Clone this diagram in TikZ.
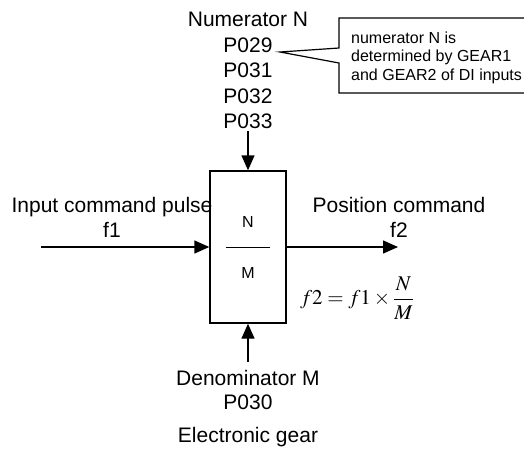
\documentclass[tikz,border=0pt]{standalone}
\usepackage{mathptmx}
\usepackage{fontspec}
\setmainfont{Liberation Sans}
\usetikzlibrary{arrows.meta}

\begin{document}
\begin{tikzpicture}[
  x=1pt, y=-1pt,
  every node/.style={font=\fontsize{21}{25}\selectfont},
  lbl/.style={align=center, inner sep=2pt},
  gearbox/.style={draw, line width=1.4pt, minimum width=76pt,
    minimum height=152pt, inner sep=0pt},
  ratio/.style={font=\fontsize{16}{18}\selectfont, anchor=base},
  arr/.style={-{Triangle[length=15pt, width=13pt]}, line width=1.4pt},
  note/.style={line width=1.2pt}
]
  \useasboundingbox (0,0) rectangle (524,448);

  % Gear block with N/M ratio
  \node[gearbox] (gear) at (248,247) {};
  \node[ratio] (ratN) at (248,227.8) {N};
  \node[ratio] (ratM) at (248,278.8) {M};
  \draw[line width=1pt] ([xshift=-22pt]gear.center) -- ([xshift=22pt]gear.center);

  % Input and output pulses
  \coordinate (in) at (41,247);
  \coordinate (out) at (398,247);
  \node[lbl] (inlbl) at (112,217.4) {Input command pulse\\f1};
  \node[lbl] (outlbl) at (399,217.4) {Position command\\f2};
  \draw[arr] (in) -- (gear.west);
  \draw[arr] (gear.east) -- (out);

  % Formula
  \node (formula) at (357,298) {$\displaystyle f2 = f1\times\frac{N}{M}$};

  % Numerator (top)
  \node[lbl, anchor=south, font=\fontsize{21}{25.5}\selectfont] (num) at (248,131)
    {Numerator N\\P029\\P031\\P032\\P033};
  \draw[arr] (num.south) -- (gear.north);

  % Denominator (bottom)
  \node[lbl, anchor=north, font=\fontsize{21}{24}\selectfont] (den) at (248,368.2)
    {Denominator M\\P030};
  \draw[arr] ([yshift=6pt]den.north) -- (gear.south);
  \node[lbl, anchor=base] (title) at (248,442.5) {Electronic gear};

  % Callout note
  \coordinate (tip) at (280,52);
  \draw[note] (530,18) -- (339,18) -- (339,48) -- (tip) -- (339,63)
    -- (339,93) -- (530,93);
  \node[align=left, anchor=west, inner sep=2pt, font=\fontsize{16}{18.5}\selectfont]
    (notetxt) at (349,57.5) {numerator N is\\determined by GEAR1\\and GEAR2 of DI inputs};
\end{tikzpicture}
\end{document}
